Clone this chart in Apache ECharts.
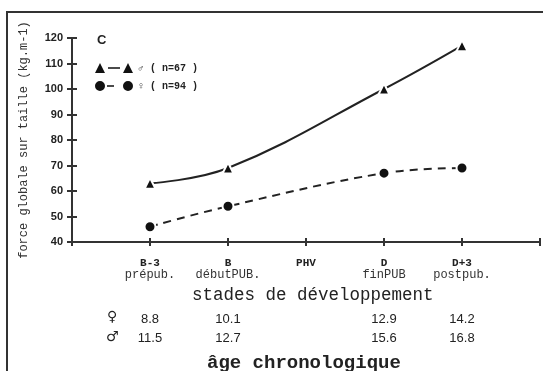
<!DOCTYPE html>
<html>
<head>
<meta charset="utf-8">
<script src="https://cdn.jsdelivr.net/npm/echarts@6/dist/echarts.min.js"></script>
<style>
  html, body { margin: 0; padding: 0; background: #fff; }
  #chart { width: 543px; height: 371px; }
</style>
</head>
<body>
<div id="chart"></div>
<script>
// stades de développement (x position 1..5)
const stageCodes = ['B-3', 'B', 'PHV', 'D', 'D+3'];
const stageNames = ['prépub.', 'débutPUB.', '', 'finPUB', 'postpub.'];
// âge chronologique par stade
const ageFemale = ['8.8', '10.1', '', '12.9', '14.2'];
const ageMale = ['11.5', '12.7', '', '15.6', '16.8'];
// force globale sur taille (kg.m-1)
const stagePos = [1, 2, 4, 5];
const maleValues = [63, 69, 100, 117];
const femaleValues = [46, 54, 67, 69];
const yTicks = [40, 50, 60, 70, 80, 90, 100, 110, 120];

const mono = '"Liberation Mono", "DejaVu Sans Mono", monospace';
const sans = '"Liberation Sans", Arial, sans-serif';

// legend icons: symbol - line - symbol
const maleIcon = 'path://M0,10L5,0L10,10Z M13,4.3L25,4.3L25,5.8L13,5.8Z M28,10L33,0L38,10Z';
const femaleIcon = 'path://M0,5A5,5 0 1,1 10,5A5,5 0 1,1 0,5Z M12,4.3L19,4.3L19,5.8L12,5.8Z ' +
    'M28,5A5,5 0 1,1 38,5A5,5 0 1,1 28,5Z';

const chart = echarts.init(document.getElementById('chart'));

const pairs = (xs, ys) => xs.map((x, i) => [x, ys[i]]);

const option = {
    animation: false,
    backgroundColor: '#fff',
    grid: { left: 72, right: 0, top: 38, bottom: 129, containLabel: false },
    title: {
        text: 'C', left: 92, top: 29,
        textStyle: { fontFamily: sans, fontSize: 13, fontWeight: 'bold', color: '#222' }
    },
    legend: {
        orient: 'vertical', left: 90, top: 58, itemGap: 8,
        itemWidth: 38, itemHeight: 10,
        itemStyle: { color: '#111', borderWidth: 0 },
        textStyle: { fontFamily: mono, fontSize: 10, fontWeight: 'bold', color: '#222' },
        data: [
            { name: '\u2642 ( n=67 )', icon: maleIcon },
            { name: '\u2640 ( n=94 )', icon: femaleIcon }
        ]
    },
    xAxis: [{
        type: 'value', min: 0, max: 6, interval: 1,
        splitLine: { show: false },
        axisLine: { lineStyle: { color: '#333', width: 2 } },
        axisTick: { length: 4, lineStyle: { color: '#333', width: 2 } },
        axisLabel: {
            margin: 16,
            formatter: v => {
                const i = v - 1;
                if (i < 0 || i >= stageCodes.length) return '';
                return '{c|' + stageCodes[i] + '}\n{n|' + (stageNames[i] || ' ') + '}\n{g| }\n{a|' +
                    (ageFemale[i] || ' ') + '}\n{a|' + (ageMale[i] || ' ') + '}';
            },
            rich: {
                c: { fontFamily: mono, fontSize: 11, fontWeight: 'bold', color: '#222', lineHeight: 11 },
                n: { fontFamily: mono, fontSize: 12, color: '#333', lineHeight: 11 },
                g: { fontSize: 10, lineHeight: 30 },
                a: { fontFamily: sans, fontSize: 13, color: '#222', lineHeight: 19 }
            }
        }
    }, {
        type: 'value', min: 0, max: 6, interval: 1, position: 'bottom',
        splitLine: { show: false }, axisLine: { show: false }, axisLabel: { show: false },
        axisTick: { inside: true, length: 4, lineStyle: { color: '#333', width: 2 } }
    }],
    yAxis: [{
        type: 'value', min: 40, max: 120, interval: 10,
        name: 'force globale sur taille (kg.m-1)',
        nameLocation: 'middle', nameGap: 42, nameRotate: 90,
        nameTextStyle: { fontFamily: mono, fontSize: 12, color: '#333' },
        splitLine: { show: false },
        axisLine: { show: true, lineStyle: { color: '#333', width: 2 } },
        axisTick: { show: true, length: 5, lineStyle: { color: '#333', width: 2 } },
        axisLabel: {
            margin: 9, fontFamily: sans, fontSize: 11, fontWeight: 'bold', color: '#222',
            formatter: v => yTicks.includes(v) ? String(v) : ''
        }
    }, {
        type: 'value', min: 40, max: 120, interval: 10, position: 'left',
        splitLine: { show: false }, axisLine: { show: false }, axisLabel: { show: false },
        axisTick: { show: true, inside: true, length: 5, lineStyle: { color: '#333', width: 2 } }
    }],
    series: [{
        name: '\u2642 ( n=67 )',
        type: 'line', smooth: 0.4,
        data: pairs(stagePos, maleValues),
        symbol: 'triangle', symbolSize: 11,
        itemStyle: { color: '#111', borderColor: '#fff', borderWidth: 2 },
        lineStyle: { color: '#222', width: 2 }
    }, {
        name: '\u2640 ( n=94 )',
        type: 'line', smooth: 0.4,
        data: pairs(stagePos, femaleValues),
        symbol: 'circle', symbolSize: 11,
        itemStyle: { color: '#111', borderColor: '#fff', borderWidth: 2 },
        lineStyle: { color: '#222', width: 2, type: [8, 6] }
    }],
    graphic: [
        { type: 'polyline', shape: { points: [[7, 371], [7, 12], [543, 12]] },
          style: { stroke: '#333', lineWidth: 2, fill: null } },
        { type: 'text', left: 192, top: 286,
          style: { text: 'stades de développement', font: '17.5px ' + mono, fill: '#222' } },
        { type: 'text', left: 107, top: 310,
          style: { text: '\u2640', font: 'bold 14px "DejaVu Sans"', fill: '#222' } },
        { type: 'text', left: 106, top: 330,
          style: { text: '\u2642', font: 'bold 14px "DejaVu Sans"', fill: '#222' } },
        { type: 'text', left: 207, top: 354,
          style: { text: 'âge chronologique', font: 'bold 19px ' + mono, fill: '#222' } }
    ]
};

chart.setOption(option);
</script>
</body>
</html>
